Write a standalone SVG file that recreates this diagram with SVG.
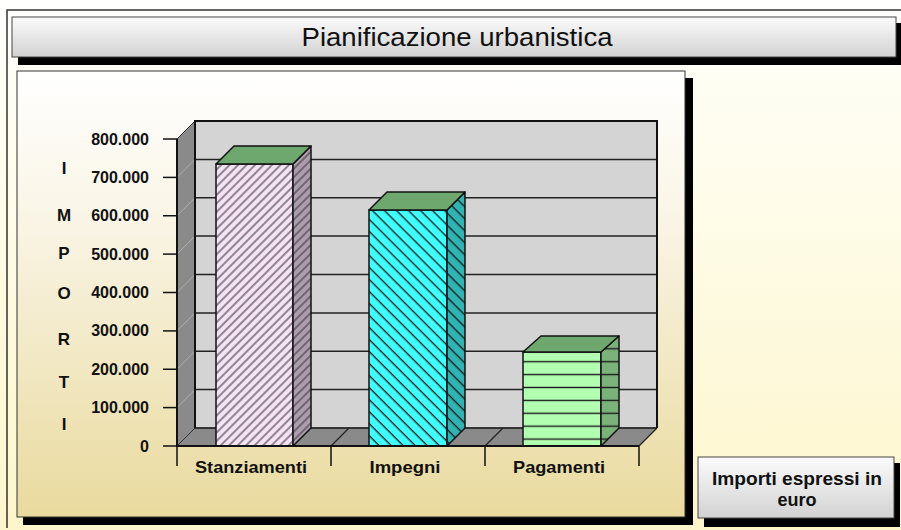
<svg xmlns="http://www.w3.org/2000/svg" width="901" height="530" viewBox="0 0 901 530">
<defs>
<linearGradient id="bgG" x1="0" y1="0" x2="0" y2="1"><stop offset="0" stop-color="#ffffff"/><stop offset="0.15" stop-color="#fffef4"/><stop offset="1" stop-color="#fdf6cc"/></linearGradient>
<linearGradient id="panelG" x1="0" y1="0" x2="0" y2="1"><stop offset="0" stop-color="#ffffff"/><stop offset="0.35" stop-color="#f9f4e4"/><stop offset="1" stop-color="#e9da9e"/></linearGradient>
<linearGradient id="btnG" x1="0" y1="0" x2="0" y2="1"><stop offset="0" stop-color="#fbfbfb"/><stop offset="1" stop-color="#d2d2d2"/></linearGradient>
<pattern id="hatchF" width="6" height="6" patternUnits="userSpaceOnUse" patternTransform="rotate(45)"><line x1="3" y1="0" x2="3" y2="6" stroke="#3a3a3a" stroke-width="1.1"/></pattern>
<pattern id="hatchB" width="8.5" height="8.5" patternUnits="userSpaceOnUse" patternTransform="rotate(-45)"><line x1="4" y1="0" x2="4" y2="8.5" stroke="#1a1a1a" stroke-width="1.3"/></pattern>
<pattern id="hatchH" x="0" y="355.25" width="10" height="12.9" patternUnits="userSpaceOnUse"><line x1="0" y1="6.45" x2="10" y2="6.45" stroke="#1a1a1a" stroke-width="1.4"/></pattern>
</defs>
<style>
text{font-family:"Liberation Sans",Arial,sans-serif;fill:#111}
.b{font-weight:bold}
.ytick{font-weight:bold;font-size:16px;text-anchor:end}
.ylet{font-weight:bold;font-size:17px;text-anchor:middle}
.cat{font-weight:bold;font-size:17px;text-anchor:middle}
.edge{stroke:#111;stroke-width:1.5;stroke-linejoin:round}
.grid{stroke:#222;stroke-width:1.5}
.lgrid{stroke:#b0b0b0;stroke-width:1}
.top{fill:#6ea86e}
</style>

<rect x="0" y="0" width="901" height="530" fill="url(#bgG)"/>
<path d="M7,528 V10 H901" fill="none" stroke="#333" stroke-width="1.5"/>

<g id="title">
<rect x="18" y="23" width="883" height="42" fill="#000"/>
<rect x="12" y="17" width="884" height="40" fill="url(#btnG)" stroke="#444" stroke-width="1"/>
<text x="457" y="46" font-size="25" text-anchor="middle" textLength="311" lengthAdjust="spacingAndGlyphs">Pianificazione urbanistica</text>
</g>

<g id="chart-panel">
<rect x="23" y="78" width="670" height="447" fill="#000"/>
<rect x="17" y="71" width="668" height="446" fill="url(#panelG)" stroke="#333" stroke-width="1"/>
</g>

<g id="plot-walls">
<rect x="195" y="121" width="462" height="307" fill="#d4d4d4"/>
<polygon points="177,139 195,121 195,428 177,446" fill="#8a8a8a" stroke="#333" stroke-width="1"/>
<polygon points="177,446 195,428 657,428 639,446" fill="#8a8a8a" stroke="#333" stroke-width="1"/>
<g class="lgrid">
<line x1="177" y1="177.4" x2="195" y2="159.4"/>
<line x1="177" y1="215.75" x2="195" y2="197.75"/>
<line x1="177" y1="254.1" x2="195" y2="236.1"/>
<line x1="177" y1="292.5" x2="195" y2="274.5"/>
<line x1="177" y1="330.9" x2="195" y2="312.9"/>
<line x1="177" y1="369.25" x2="195" y2="351.25"/>
<line x1="177" y1="407.6" x2="195" y2="389.6"/>
</g>
<g class="grid">
<line x1="195" y1="159.4" x2="657" y2="159.4"/>
<line x1="195" y1="197.75" x2="657" y2="197.75"/>
<line x1="195" y1="236.1" x2="657" y2="236.1"/>
<line x1="195" y1="274.5" x2="657" y2="274.5"/>
<line x1="195" y1="312.9" x2="657" y2="312.9"/>
<line x1="195" y1="351.25" x2="657" y2="351.25"/>
<line x1="195" y1="389.6" x2="657" y2="389.6"/>
<line x1="195" y1="428" x2="657" y2="428"/>
</g>
<path d="M195,428 V121 H657 V428" fill="none" stroke="#111" stroke-width="2"/>
<g stroke="#222" stroke-width="1.3">
<line x1="331" y1="446" x2="349" y2="428"/>
<line x1="485" y1="446" x2="503" y2="428"/>
<line x1="639" y1="446" x2="657" y2="428"/>
</g>
</g>

<g id="bar-stanziamenti">
<polygon points="216,446 216,164 293,164 293,446" fill="#f5e2f5"/>
<polygon points="216,446 216,164 293,164 293,446" fill="url(#hatchF)" class="edge"/>
<polygon points="293,164 311,146 311,428 293,446" fill="#ad9cad"/>
<polygon points="293,164 311,146 311,428 293,446" fill="url(#hatchF)" class="edge"/>
<polygon points="216,164 234,146 311,146 293,164" class="top edge"/>
</g>

<g id="bar-impegni">
<polygon points="369,446 369,210 447,210 447,446" fill="#40ffff"/>
<polygon points="369,446 369,210 447,210 447,446" fill="url(#hatchB)" class="edge"/>
<polygon points="447,210 465,192 465,428 447,446" fill="#2fb3b3"/>
<polygon points="447,210 465,192 465,428 447,446" fill="url(#hatchB)" class="edge"/>
<polygon points="369,210 387,192 465,192 447,210" class="top edge"/>
</g>

<g id="bar-pagamenti">
<polygon points="523,446 523,352 601,352 601,446" fill="#b2ffb2"/>
<polygon points="523,446 523,352 601,352 601,446" fill="url(#hatchH)" class="edge"/>
<polygon points="601,352 619,336 619,428 601,446" fill="#7ab27a"/>
<polygon points="601,352 619,336 619,428 601,446" fill="url(#hatchH)" class="edge"/>
<polygon points="523,352 541,336 619,336 601,352" class="top edge"/>
</g>

<g id="axes" stroke="#111" stroke-width="2">
<line x1="177" y1="139" x2="177" y2="447"/>
<line x1="176" y1="446" x2="639" y2="446"/>
<g stroke-width="1.5">
<line x1="163" y1="139" x2="177" y2="139"/>
<line x1="163" y1="177.4" x2="177" y2="177.4"/>
<line x1="163" y1="215.75" x2="177" y2="215.75"/>
<line x1="163" y1="254.1" x2="177" y2="254.1"/>
<line x1="163" y1="292.5" x2="177" y2="292.5"/>
<line x1="163" y1="330.9" x2="177" y2="330.9"/>
<line x1="163" y1="369.25" x2="177" y2="369.25"/>
<line x1="163" y1="407.6" x2="177" y2="407.6"/>
<line x1="163" y1="446" x2="177" y2="446"/>
<line x1="177" y1="446" x2="177" y2="466"/>
<line x1="331" y1="446" x2="331" y2="466"/>
<line x1="485" y1="446" x2="485" y2="466"/>
<line x1="639" y1="446" x2="639" y2="466"/>
</g>
</g>

<g id="y-labels">
<text class="ytick" x="149" y="144.5">800.000</text>
<text class="ytick" x="149" y="183">700.000</text>
<text class="ytick" x="149" y="221">600.000</text>
<text class="ytick" x="149" y="259.5">500.000</text>
<text class="ytick" x="149" y="298">400.000</text>
<text class="ytick" x="149" y="336">300.000</text>
<text class="ytick" x="149" y="374.5">200.000</text>
<text class="ytick" x="149" y="413">100.000</text>
<text class="ytick" x="149" y="451.5">0</text>
</g>

<g id="y-title">
<text class="ylet" x="64" y="174">I</text>
<text class="ylet" x="64" y="221">M</text>
<text class="ylet" x="64" y="259">P</text>
<text class="ylet" x="64" y="299">O</text>
<text class="ylet" x="64" y="345">R</text>
<text class="ylet" x="64" y="388">T</text>
<text class="ylet" x="64" y="430">I</text>
</g>

<g id="x-labels">
<text class="cat" x="251" y="473" textLength="112" lengthAdjust="spacingAndGlyphs">Stanziamenti</text>
<text class="cat" x="405" y="473" textLength="71" lengthAdjust="spacingAndGlyphs">Impegni</text>
<text class="cat" x="559" y="473" textLength="92" lengthAdjust="spacingAndGlyphs">Pagamenti</text>
</g>

<g id="legend-note">
<rect x="704" y="463" width="196" height="64" fill="#000"/>
<rect x="698" y="457" width="196" height="61" fill="url(#btnG)" stroke="#444" stroke-width="1"/>
<text class="b" x="797" y="485" font-size="18" text-anchor="middle" textLength="170" lengthAdjust="spacingAndGlyphs">Importi espressi in</text>
<text class="b" x="797" y="506" font-size="18" text-anchor="middle">euro</text>
</g>
</svg>
